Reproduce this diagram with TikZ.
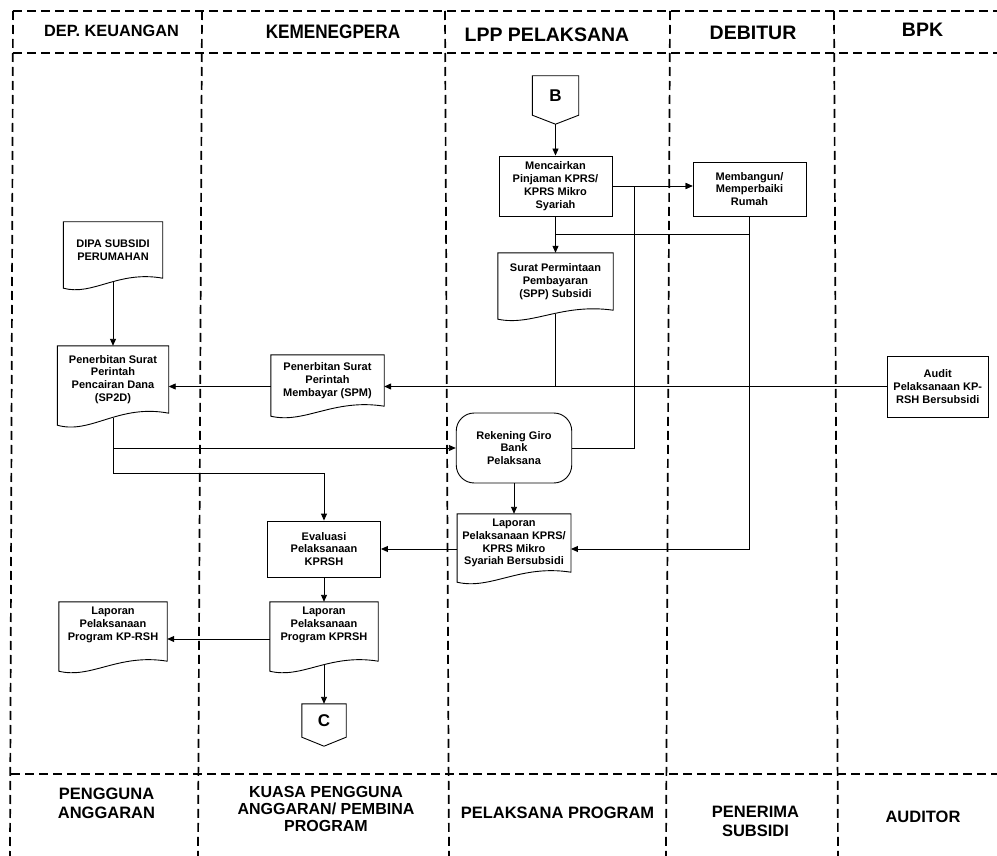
\documentclass[tikz,border=0pt]{standalone}
\usepackage{fontspec}
\setmainfont{Liberation Sans}
\usetikzlibrary{arrows.meta,calc}
\newcommand\docoutline[2]{%
  \draw[line width=0.9pt] (#1.south east) -- (#1.north east) -- (#1.north west) -- ([yshift=-#2pt]#1.south west)
    .. controls ($(#1.south west)!0.3!(#1.south east)+(0,1.8*#2)$) and ($(#1.south west)!0.55!(#1.south east)+(0,-0.8*#2)$) .. (#1.south east) -- cycle;}
\newcommand\offpage[2]{%
  \draw[line width=0.9pt] (#1.north west) -- (#1.north east) -- (#1.south east) -- ([yshift=-#2pt]#1.south) -- (#1.south west) -- cycle;}
\begin{document}
\begin{tikzpicture}[x=1pt,y=-1pt,
  lane/.style={line width=1.7pt, dash pattern=on 9pt off 5pt},
  txt/.style={font=\bfseries\fontsize{11}{12.8}\selectfont, align=center, inner sep=0pt},
  box/.style={txt, draw, line width=0.9pt},
  doc/.style={txt, draw=none},
  conn/.style={line width=0.9pt},
  arr/.style={conn, -{Triangle[length=7pt,width=6pt]}},
  hdr/.style={font=\bfseries, inner sep=0pt, align=center},
  bot/.style={font=\bfseries\fontsize{16.5}{18.5}\selectfont, inner sep=0pt, align=center},
]
\useasboundingbox (0,0) rectangle (997,856);

% swimlane frame
\draw[lane] (13,11) -- (997,11);
\draw[lane] (13,53) -- (997,53);
\draw[lane] (11,774) -- (997,774);
\draw[lane] (13,11) -- (10,856);
\draw[lane] (202,11) -- (198,856);
\draw[lane] (445,11) -- (449,856);
\draw[lane] (670,11) -- (666,856);
\draw[lane] (834,11) -- (838,856);

% headers
\node[hdr, font=\bfseries\fontsize{16.3}{18}\selectfont] (h1) at (111.5,31) {DEP. KEUANGAN};
\node[hdr, font=\bfseries\fontsize{19.5}{21}\selectfont] (h2) at (333,32) {\scalebox{0.88}[1]{KEMENEGPERA}};
\node[hdr, font=\bfseries\fontsize{19.5}{21}\selectfont] (h3) at (547,34.5) {LPP PELAKSANA};
\node[hdr, font=\bfseries\fontsize{19.5}{21}\selectfont] (h4) at (753,32.5) {DEBITUR};
\node[hdr, font=\bfseries\fontsize{19.5}{21}\selectfont] (h5) at (922.5,30) {BPK};

% footers
\node[bot] (f1) at (106.5,803.3) {PENGGUNA\\ANGGARAN};
\node[bot, font=\bfseries\fontsize{16}{17}\selectfont] (f2) at (326,808.8) {KUASA PENGGUNA\\ANGGARAN/ PEMBINA\\PROGRAM};
\node[bot] (f3) at (557.5,813.3) {PELAKSANA PROGRAM};
\node[bot, font=\bfseries\fontsize{16.5}{19}\selectfont] (f4) at (755.5,821) {PENERIMA\\SUBSIDI};
\node[bot] (f5) at (923,816.7) {AUDITOR};

% off-page connectors
\node[txt, font=\bfseries\fontsize{17}{19}\selectfont, minimum width=46pt, minimum height=39pt] (B) at (555.5,95.5) {B};
\offpage{B}{9}
\node[txt, font=\bfseries\fontsize{17}{19}\selectfont, minimum width=44pt, minimum height=33pt] (C) at (324,720.5) {C};
\offpage{C}{9}

% process boxes
\node[box, minimum width=113pt, minimum height=60pt] (menc) at (555.5,186) {Mencairkan\\Pinjaman KPRS/\\KPRS Mikro\\Syariah};
\node[box, minimum width=113pt, minimum height=54pt] (memb) at (749.5,189) {Membangun/\\Memperbaiki\\Rumah};
\node[box, minimum width=101.5pt, minimum height=61pt] (audit) at (937.75,386.5) {Audit\\Pelaksanaan KP-\\RSH Bersubsidi};
\node[box, minimum width=113pt, minimum height=56pt] (eval) at (324,549) {Evaluasi\\Pelaksanaan\\KPRSH};
\node[box, rounded corners=18pt, minimum width=115.5pt, minimum height=70pt] (rek) at (514,448) {Rekening Giro\\Bank\\Pelaksana};

% documents
\node[doc, minimum width=99pt, minimum height=56pt] (dipa) at (113,250) {DIPA SUBSIDI\\PERUMAHAN};
\docoutline{dipa}{10}
\node[doc, minimum width=111pt, minimum height=67pt] (sp2d) at (113,379.5) {Penerbitan Surat\\Perintah\\Pencairan Dana\\(SP2D)};
\docoutline{sp2d}{12}
\node[doc, minimum width=113pt, minimum height=51pt] (spm) at (327.5,380.5) {Penerbitan Surat\\Perintah\\Membayar (SPM)};
\docoutline{spm}{10}
\node[doc, minimum width=115pt, minimum height=57pt] (spp) at (555.5,281.5) {Surat Permintaan\\Pembayaran\\(SPP) Subsidi};
\docoutline{spp}{9}
\node[doc, minimum width=113.5pt, minimum height=58pt] (lapk) at (514,543) {Laporan\\Pelaksanaan KPRS/\\KPRS Mikro\\Syariah Bersubsidi};
\docoutline{lapk}{10}
\node[doc, minimum width=108pt, minimum height=59pt, text depth=16pt] (lapl) at (113,631.5) {Laporan\\Pelaksanaan\\Program KP-RSH};
\docoutline{lapl}{10}
\node[doc, minimum width=108pt, minimum height=59pt, text depth=16pt] (lapm) at (324,631.5) {Laporan\\Pelaksanaan\\Program KPRSH};
\docoutline{lapm}{10}

% connectors
\draw[arr] ([yshift=-9pt]B.south) -- (menc.north);
\draw[arr] (menc.east) -- (menc.east -| memb.west);
\coordinate (j1) at ([xshift=22pt]menc.east);
\draw[arr] (rek.east) -| (j1) -- (j1 -| memb.west);
\draw[arr] (menc.south) -- (spp.north);
\coordinate (j2) at ($(menc.south)!0.5!(spp.north)$);
\draw[conn] (memb.south) |- (j2);
\coordinate (j4) at (memb.south |- eval.east);
\draw[arr] (memb.south) -- (j4) -- (j4 -| lapk.east);
\draw[conn] ([yshift=-4pt]spp.south) -- (spp.south |- audit.west);
\draw[arr, line width=1.2pt] (audit.west) -- (audit.west -| spm.east);
\draw[arr] (spm.west |- audit.west) -- (sp2d.east |- audit.west);
\draw[arr] ([yshift=-4pt]dipa.south) -- (sp2d.north);
\draw[arr] ([yshift=-5pt]sp2d.south) |- (rek.west);
\coordinate (j3) at (324,473);
\draw[arr] ([yshift=-5pt]sp2d.south) |- (j3) -- (eval.north);
\draw[arr] (rek.south) -- (lapk.north);
\draw[arr] (lapk.west |- eval.east) -- (eval.east);
\draw[arr] (eval.south) -- (lapm.north);
\draw[arr] ([yshift=-7.5pt]lapm.west) -- ([yshift=-7.5pt]lapm.west -| lapl.east);
\draw[arr] ([yshift=-4pt]lapm.south) -- (C.north);
\end{tikzpicture}
\end{document}
